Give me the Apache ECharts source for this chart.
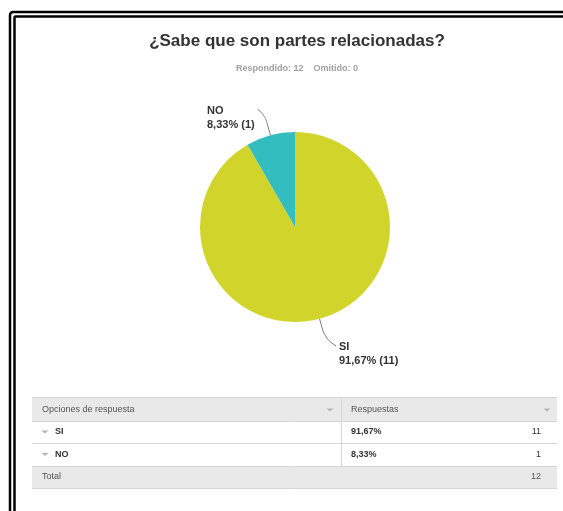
<!DOCTYPE html>
<html><head><meta charset="utf-8">
<script src="https://cdn.jsdelivr.net/npm/echarts@6/dist/echarts.min.js"></script>
<style>html,body{margin:0;padding:0;background:#fff}#c{width:563px;height:511px}</style>
</head><body><div id="c"></div>
<script>
var titleText = '¿Sabe que son partes relacionadas?';
var answered = 12;
var skipped = 0;
var categories = ['SI', 'NO'];
var counts = [11, 1];
var colors = ['#d1d52b', '#34bdbf'];
var headers = ['Opciones de respuesta', 'Respuestas'];

var total = counts.reduce(function(a,b){return a+b;},0);
function pct(v){ return (v/total*100).toFixed(2).replace('.', ',') + '%'; }

var chart = echarts.init(document.getElementById('c'), null, {renderer:'canvas'});
var FONT = 'Liberation Sans, Arial, sans-serif';

var g = [];
// double frame
g.push({type:'rect', shape:{x:10, y:12, width:700, height:700, r:3}, style:{fill:'none', stroke:'#000', lineWidth:2.5}, silent:true});
g.push({type:'rect', shape:{x:14.5, y:16.5, width:700, height:700, r:1}, style:{fill:'none', stroke:'#000', lineWidth:2.5}, silent:true});

// table
var tx0 = 32, tx1 = 557, colX = 341;
var yH0 = 397, yH1 = 421, yR1 = 443, yR2 = 466, yT = 488;
g.push({type:'rect', shape:{x:tx0, y:yH0, width:tx1-tx0, height:yH1-yH0}, style:{fill:'#e9e9e9'}});
g.push({type:'rect', shape:{x:tx0, y:yR2, width:tx1-tx0, height:yT-yR2}, style:{fill:'#e9e9e9'}});
[yH0, yH1, yR1, yR2, yT].forEach(function(y){
  g.push({type:'line', shape:{x1:tx0, y1:y+0.5, x2:tx1, y2:y+0.5}, style:{stroke:'#d6d6d6', lineWidth:1}});
});
g.push({type:'line', shape:{x1:colX+0.5, y1:yH0, x2:colX+0.5, y2:yR2}, style:{stroke:'#d6d6d6', lineWidth:1}});
function arrow(x, y){
  g.push({type:'polygon', shape:{points:[[x-3.5,y-1.5],[x+3.5,y-1.5],[x,y+1.5]]}, style:{fill:'#b5b5b5'}});
}
g.push({type:'text', x:42, y:(yH0+yH1)/2+1, style:{text:headers[0], font:'9px '+FONT, fill:'#555', verticalAlign:'middle'}});
g.push({type:'text', x:351, y:(yH0+yH1)/2+1, style:{text:headers[1], font:'9px '+FONT, fill:'#555', verticalAlign:'middle'}});
arrow(330, (yH0+yH1)/2+1);
arrow(547, (yH0+yH1)/2+1);
var rowY = [(yH1+yR1)/2, (yR1+yR2)/2];
categories.forEach(function(c, i){
  arrow(45, rowY[i]);
  g.push({type:'text', x:55, y:rowY[i], style:{text:c, font:'bold 9px '+FONT, fill:'#333', verticalAlign:'middle'}});
  g.push({type:'text', x:351, y:rowY[i], style:{text:pct(counts[i]), font:'bold 9px '+FONT, fill:'#333', verticalAlign:'middle'}});
  g.push({type:'text', x:541, y:rowY[i], style:{text:String(counts[i]), font:'9px '+FONT, fill:'#333', align:'right', verticalAlign:'middle'}});
});
g.push({type:'text', x:42, y:(yR2+yT)/2, style:{text:'Total', font:'9px '+FONT, fill:'#555', verticalAlign:'middle'}});
g.push({type:'text', x:541, y:(yR2+yT)/2, style:{text:String(total), font:'9px '+FONT, fill:'#555', align:'right', verticalAlign:'middle'}});

var CX = 295, CY = 227, R = 95;
var labelPos = {
  'SI': {dx: 44, dy: 113, side: 'left'},
  'NO': {dx: -88, dy: -123, side: 'right'}
};

chart.setOption({
  animation:false,
  title:{
    text:titleText,
    subtext:'Respondido: ' + answered + '    Omitido: ' + skipped,
    left:292, textAlign:'center', top:28,
    itemGap:14,
    textStyle:{fontFamily:FONT, fontSize:17, fontWeight:'bold', color:'#333'},
    subtextStyle:{fontFamily:FONT, fontSize:9, fontWeight:'bold', color:'#a0a0a0'}
  },
  graphic:g,
  series:[{
    type:'pie',
    center:[CX, CY],
    radius:R,
    startAngle:90,
    clockwise:true,
    data:categories.map(function(c,i){return {name:c, value:counts[i], itemStyle:{color:colors[i]}};}),
    label:{
      show:true,
      position:'outside',
      formatter:function(p){ return p.name + '\n' + pct(p.value) + ' (' + p.value + ')'; },
      fontFamily:FONT, fontSize:11, fontWeight:'bold', color:'#333', lineHeight:14, align:'left'
    },
    labelLine:{show:true, length:12, length2:8, smooth:0.4, lineStyle:{color:'#777', width:1}},
    labelLayout:function(p){
      var name = categories[p.dataIndex];
      var o = labelPos[name];
      var lx = CX + o.dx, ly = CY + o.dy;
      var res = {x: lx, y: ly, align:'left', verticalAlign:'top'};
      var pts = p.labelLinePoints;
      if (pts && pts.length) {
        var p0 = pts[0];
        var dxr = p0[0] - CX, dyr = p0[1] - CY, len = Math.sqrt(dxr*dxr + dyr*dyr);
        var p1 = [p0[0] + dxr/len*20, p0[1] + dyr/len*20];
        var p2 = o.side === 'right' ? [lx + p.rect.width + 3, ly + 5] : [lx - 3, ly + 6];
        res.labelLinePoints = [p0, p1, p2];
      }
      return res;
    },
    emphasis:{disabled:true}
  }]
});
</script></body></html>
